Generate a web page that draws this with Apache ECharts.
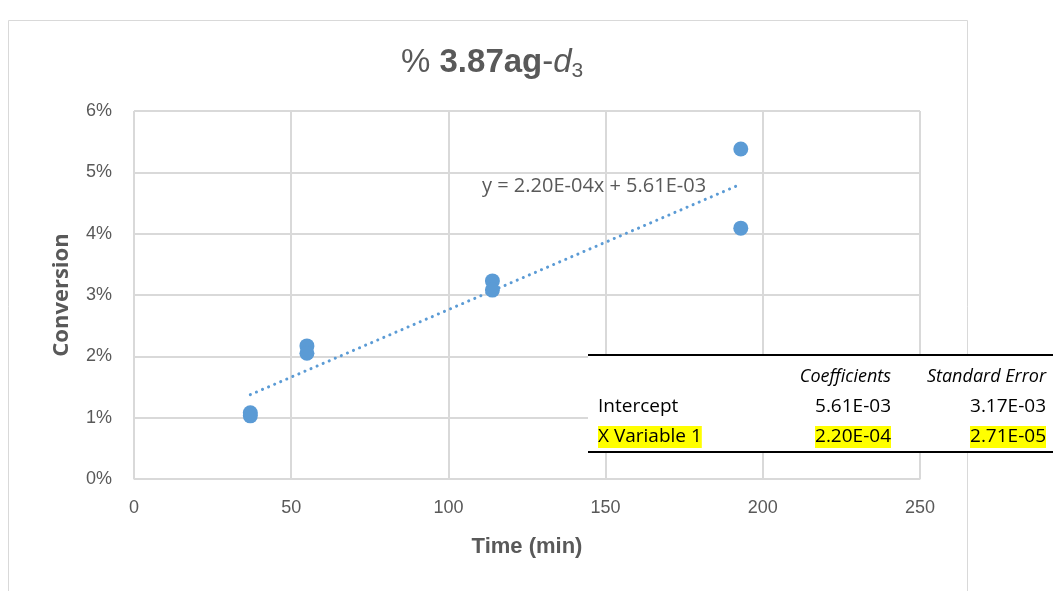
<!DOCTYPE html>
<html>
<head>
<meta charset="utf-8">
<script src="https://cdn.jsdelivr.net/npm/echarts@6/dist/echarts.min.js"></script>
<style>
  html, body { margin: 0; padding: 0; background: #fff; }
  #chart { width: 1053px; height: 591px; }
</style>
</head>
<body>
<div id="chart"></div>
<script>
// data (conversion as fraction)
const timeMin = [37, 37, 55, 55, 114, 114, 193, 193];
const conversion = [0.0103, 0.0108, 0.0217, 0.0205, 0.0323, 0.0308, 0.0538, 0.0409];
const yTicks = [0, 0.01, 0.02, 0.03, 0.04, 0.05, 0.06];
const xTicks = [0, 50, 100, 150, 200, 250];

// regression output shown in the table
const intercept = 5.61e-3;
const slope = 2.20e-4;
const interceptErr = 3.17e-3;
const slopeErr = 2.71e-5;
const trendX = [37, 193];

const fmtE = (v) => {
  let s = v.toExponential(2).toUpperCase();
  return s.replace(/E([+-])(\d)$/, 'E$10$2');
};

const chart = echarts.init(document.getElementById('chart'));
const FONT = '"Liberation Sans", "Noto Sans", sans-serif';
const WIDE = '"Open Sans", "Noto Sans", sans-serif';
const GRAY = '#595959';

const trendData = trendX.map(x => [x, intercept + slope * x]);
const eqText = 'y = ' + fmtE(slope) + 'x + ' + fmtE(intercept);

// table geometry (graphic overlay)
const tL = 588, tTop = 355, tBot = 452, c1 = 891, c2 = 1046;
const hl = { fill: '#000', backgroundColor: '#ffff00', padding: [2, 0, 1, 0] };

let option = {
  backgroundColor: '#fff',
  animation: false,
  title: {
    text: '{n|% }{b|3.87ag}{n|-}{i|d}{s|3}',
    left: 396,
    top: 38,
    textStyle: {
      fontWeight: 'normal',
      rich: {
        n: { fontSize: 33, color: GRAY, fontFamily: FONT, fontWeight: 'normal' },
        b: { fontSize: 33, color: GRAY, fontFamily: FONT, fontWeight: 'bold' },
        i: { fontSize: 33, color: GRAY, fontFamily: FONT, fontStyle: 'italic', fontWeight: 'normal' },
        s: { fontSize: 21, color: GRAY, fontFamily: FONT, fontWeight: 'normal', verticalAlign: 'bottom', padding: [18, 0, 0, 0] }
      }
    }
  },
  grid: { left: 134, right: 133, top: 111, bottom: 112 },
  xAxis: {
    type: 'value',
    min: 0, max: 250, interval: 50,
    name: 'Time (min)',
    nameLocation: 'middle',
    nameGap: 57,
    nameTextStyle: { fontSize: 22, fontWeight: 'bold', color: GRAY, fontFamily: FONT },
    axisLine: { show: true, lineStyle: { color: '#d9d9d9', width: 1 } },
    axisTick: { show: false },
    axisLabel: { fontSize: 18, color: GRAY, fontFamily: FONT, margin: 20 },
    splitLine: { show: true, lineStyle: { color: '#d9d9d9', width: 2 } }
  },
  yAxis: {
    type: 'value',
    min: 0, max: 0.06, interval: 0.01,
    name: 'Conversion',
    nameLocation: 'middle',
    nameGap: 61,
    nameRotate: 90,
    nameTextStyle: { fontSize: 22, fontWeight: 'bold', color: GRAY, fontFamily: WIDE },
    axisLine: { show: false },
    axisTick: { show: false },
    axisLabel: {
      fontSize: 18, color: GRAY, fontFamily: FONT, margin: 22,
      formatter: (v) => Math.round(v * 100) + '%'
    },
    splitLine: { show: true, lineStyle: { color: '#d9d9d9', width: 2 } }
  },
  series: [
    {
      name: 'Conversion',
      type: 'scatter',
      symbol: 'circle',
      symbolSize: 15,
      itemStyle: { color: '#5b9bd5', opacity: 1 },
      data: timeMin.map((t, i) => [t, conversion[i]]),
      z: 3
    },
    {
      name: 'Linear',
      type: 'line',
      data: trendData,
      showSymbol: false,
      lineStyle: { color: '#5b9bd5', width: 3, type: [0.1, 6.5], cap: 'round' },
      z: 2
    }
  ],
  graphic: [
    // outer chart frame
    { type: 'rect', shape: { x: 8.5, y: 20.5, width: 959, height: 600 }, style: { fill: 'none', stroke: '#d9d9d9', lineWidth: 1 }, z: 0, silent: true },
    // trendline equation
    { type: 'text', x: 482, y: 186, style: { text: eqText, verticalAlign: 'middle', font: '20px ' + WIDE, fill: GRAY }, z: 10 },
    // regression table
    { type: 'rect', shape: { x: tL, y: tTop, width: 1053 - tL, height: tBot - tTop }, style: { fill: '#fff' }, z: 20 },
    { type: 'line', shape: { x1: tL, y1: tTop, x2: 1053, y2: tTop }, style: { stroke: '#000', lineWidth: 2 }, z: 21 },
    { type: 'line', shape: { x1: tL, y1: tBot, x2: 1053, y2: tBot }, style: { stroke: '#000', lineWidth: 2 }, z: 21 },
    { type: 'text', x: c1, y: 377, style: { text: 'Coefficients', align: 'right', verticalAlign: 'middle', font: 'italic 18px ' + WIDE, fill: '#000' }, z: 22 },
    { type: 'text', x: c2, y: 377, style: { text: 'Standard Error', align: 'right', verticalAlign: 'middle', font: 'italic 18px ' + WIDE, fill: '#000' }, z: 22 },
    { type: 'text', x: 598, y: 407, style: { text: 'Intercept', align: 'left', verticalAlign: 'middle', font: '19px ' + WIDE, fill: '#000' }, z: 22 },
    { type: 'text', x: c1, y: 407, style: { text: fmtE(intercept), align: 'right', verticalAlign: 'middle', font: '19px ' + WIDE, fill: '#000' }, z: 22 },
    { type: 'text', x: c2, y: 407, style: { text: fmtE(interceptErr), align: 'right', verticalAlign: 'middle', font: '19px ' + WIDE, fill: '#000' }, z: 22 },
    { type: 'text', x: 598, y: 437, style: Object.assign({ text: 'X Variable 1', align: 'left', verticalAlign: 'middle', font: '19px ' + WIDE }, hl), z: 22 },
    { type: 'text', x: c1, y: 437, style: Object.assign({ text: fmtE(slope), align: 'right', verticalAlign: 'middle', font: '19px ' + WIDE }, hl), z: 22 },
    { type: 'text', x: c2, y: 437, style: Object.assign({ text: fmtE(slopeErr), align: 'right', verticalAlign: 'middle', font: '19px ' + WIDE }, hl), z: 22 }
  ]
};
chart.setOption(option);
</script>
</body>
</html>
